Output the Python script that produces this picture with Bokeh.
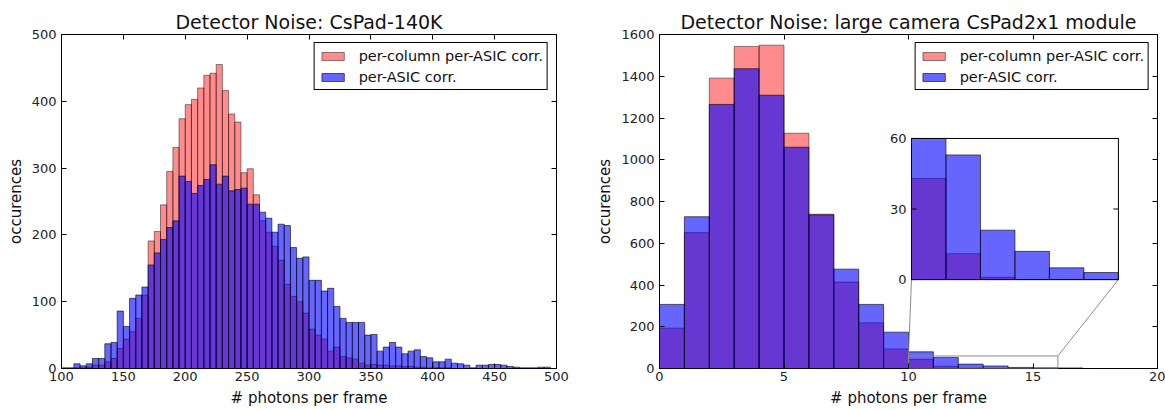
import numpy as np
from bokeh.plotting import figure
from bokeh.models import (Range1d, FixedTicker, LinearAxis, Legend, LegendItem,
                          CustomJSTickFormatter)
from bokeh.layouts import row
from bokeh.embed import file_html
from bokeh.resources import INLINE
from bokeh.core.properties import value

# ---------------- data ----------------
# Left panel: CsPad-140K, bins of 5 photons from 100 to 500
left_bin_start = 100
left_bin_width = 5
left_col_asic = [0, 0, 1, 1, 2, 5, 5, 10, 15, 30,
                 44, 55, 75, 110, 191, 205, 245, 295, 331, 374,
                 395, 403, 420, 439, 442, 455, 416, 381, 369, 293,
                 299, 260, 221, 204, 183, 162, 126, 108, 100, 83,
                 59, 50, 44, 26, 32, 18, 16, 14, 8, 5,
                 6, 5, 5, 4, 4, 3, 3, 2, 2, 1,
                 1, 1, 1, 0, 0, 0, 0, 0, 0, 0,
                 0, 0, 0, 0, 0, 0, 0, 0, 0, 0]
left_asic = [1, 1, 7, 4, 7, 15, 15, 37, 39, 86,
             63, 105, 110, 122, 155, 173, 193, 211, 221, 288,
             280, 262, 274, 283, 305, 276, 288, 266, 268, 270,
             246, 246, 234, 225, 204, 216, 214, 181, 165, 167,
             132, 132, 116, 120, 93, 75, 69, 69, 69, 50,
             51, 26, 32, 39, 32, 22, 26, 28, 18, 16,
             10, 10, 14, 8, 7, 5, 1, 5, 5, 6,
             6, 5, 3, 2, 1, 1, 1, 2, 2, 0]

# Right panel: large camera CsPad2x1 module, bins of 1 photon from 0
right_bin_start = 0
right_bin_width = 1
right_col_asic = [193, 651, 1391, 1543, 1549, 1127, 739, 414, 219, 94,
                  43, 11, 1, 0, 0, 0, 3]
right_asic = [307, 727, 1265, 1436, 1309, 1060, 736, 476, 307, 174,
              80, 53, 21, 12, 5, 3, 0]

left_xticks = [100, 150, 200, 250, 300, 350, 400, 450, 500]
left_yticks = [0, 100, 200, 300, 400, 500]
right_xticks = [0, 5, 10, 15, 20]
right_yticks = [0, 200, 400, 600, 800, 1000, 1200, 1400, 1600]
inset_yticks = [0, 30, 60]

labels = ["per-column per-ASIC corr.", "per-ASIC corr."]
titles = ["Detector Noise: CsPad-140K", "Detector Noise: large camera CsPad2x1 module"]
xlabel = "# photons per frame"
ylabel = "occurences"

# ---------------- style ----------------
FONT = "DejaVu Sans"
RED = dict(fill_color="red", fill_alpha=0.45, line_color="black", line_alpha=0.45, line_width=1)
BLUE = dict(fill_color="blue", fill_alpha=0.6, line_color="black", line_alpha=0.6, line_width=1)
TICK_FS = "13px"


def edges(start, width, n):
    e = start + width * np.arange(n + 1)
    return e[:-1], e[1:]


def make_fig(title, xr, yr, xticks, yticks, min_left, min_right, frame_w):
    p = figure(x_range=Range1d(*xr), y_range=Range1d(*yr),
               frame_width=frame_w, frame_height=334,
               min_border_left=min_left, min_border_right=min_right,
               min_border_top=34, min_border_bottom=40,
               output_backend="svg", toolbar_location=None,
               title=title)
    p.title.text_font = FONT
    p.title.text_font_size = "19px"
    p.title.text_font_style = "normal"
    p.title.align = "center"
    p.title.standoff = 3
    p.title.text_color = "#111111"
    p.xgrid.visible = False
    p.ygrid.visible = False
    p.outline_line_color = "black"
    p.outline_line_width = 1
    p.outline_line_alpha = 1
    p.background_fill_color = "white"
    p.border_fill_color = "white"
    for ax in (p.xaxis[0], p.yaxis[0]):
        ax.axis_line_color = None
        ax.major_tick_in = 5
        ax.major_tick_out = 0
        ax.minor_tick_line_color = None
        ax.major_label_text_font = FONT
        ax.major_label_text_font_size = TICK_FS
        ax.major_label_text_color = "#222222"
        ax.axis_label_text_font = FONT
        ax.axis_label_text_font_size = "15px"
        ax.axis_label_text_font_style = "normal"
        ax.axis_label_text_color = "#111111"
    p.xaxis[0].ticker = FixedTicker(ticks=xticks)
    p.yaxis[0].ticker = FixedTicker(ticks=yticks)
    p.xaxis[0].axis_label = xlabel
    p.yaxis[0].axis_label = ylabel
    p.xaxis[0].major_label_standoff = 3
    p.yaxis[0].major_label_standoff = 5
    p.xaxis[0].axis_label_standoff = 5
    p.yaxis[0].axis_label_standoff = 4
    blank = CustomJSTickFormatter(code="return ''")
    top = LinearAxis(ticker=FixedTicker(ticks=xticks), formatter=blank)
    right = LinearAxis(ticker=FixedTicker(ticks=yticks), formatter=blank)
    for ax in (top, right):
        ax.axis_line_color = None
        ax.major_tick_in = 5
        ax.major_tick_out = 0
        ax.minor_tick_line_color = None
        ax.major_label_standoff = 0
    p.add_layout(top, "above")
    p.add_layout(right, "right")
    return p


def add_legend(p, r_red, r_blue):
    leg = Legend(items=[LegendItem(label=labels[0], renderers=[r_red]),
                        LegendItem(label=labels[1], renderers=[r_blue])],
                 location="top_right")
    leg.border_line_color = "black"
    leg.border_line_width = 1
    leg.border_line_alpha = 1
    leg.label_text_font = FONT
    leg.label_text_font_size = "14.5px"
    leg.label_text_color = "#111111"
    leg.glyph_width = 28
    leg.glyph_height = 10
    leg.label_height = 17
    leg.spacing = 4
    leg.padding = 4
    leg.margin = 8
    leg.label_standoff = 12
    leg.background_fill_alpha = 1
    p.add_layout(leg)


# ---------------- left figure ----------------
pl = make_fig(titles[0], (100, 500), (0, 500),
              left_xticks, left_yticks, 61, 37, 495)
l0, l1 = edges(left_bin_start, left_bin_width, len(left_asic))
r1 = pl.quad(left=l0, right=l1, bottom=0, top=left_col_asic, **RED)
r2 = pl.quad(left=l0, right=l1, bottom=0, top=left_asic, **BLUE)
add_legend(pl, r1, r2)

# ---------------- right figure ----------------
pr = make_fig(titles[1], (0, 20), (0, 1600),
              right_xticks, right_yticks, 62, 8, 498)
q0, q1 = edges(right_bin_start, right_bin_width, len(right_asic))
s1 = pr.quad(left=q0, right=q1, bottom=0, top=right_col_asic, **RED)
s2 = pr.quad(left=q0, right=q1, bottom=0, top=right_asic, **BLUE)
add_legend(pr, s1, s2)

# inset: zoom of bins 10..16, counts 0..60, placed over a region of the main axes
INSET_X = (10, 16)
INSET_Y = (0, 60)
INSET_POS_X = (10.12, 18.43)   # main-data coords of the inset box
INSET_POS_Y = (426, 1102)


def lin(v, a0, a1, b0, b1):
    return b0 + (v - a0) * (b1 - b0) / (a1 - a0)


pr.extra_x_ranges = {"ix": Range1d(lin(0, *INSET_POS_X, *INSET_X), lin(20, *INSET_POS_X, *INSET_X))}
pr.extra_y_ranges = {"iy": Range1d(lin(0, *INSET_POS_Y, *INSET_Y), lin(1600, *INSET_POS_Y, *INSET_Y))}

# zoom marker rectangle and connectors (main coords)
GRAY = "#8c8c8c"
pr.quad(left=[INSET_X[0]], right=[INSET_X[1]], bottom=[INSET_Y[0]], top=[INSET_Y[1]],
        fill_color=None, line_color=GRAY, line_width=1)
pr.segment(x0=[INSET_X[0], INSET_X[1]], y0=[INSET_Y[1], INSET_Y[1]],
           x1=[INSET_POS_X[0], INSET_POS_X[1]], y1=[INSET_POS_Y[0], INSET_POS_Y[0]],
           line_color=GRAY, line_width=1)

i_sel = slice(INSET_X[0] - right_bin_start, INSET_X[1] - right_bin_start)
pr.quad(left=[INSET_X[0]], right=[INSET_X[1]], bottom=[INSET_Y[0]], top=[INSET_Y[1]],
        fill_color="white", line_color=None, x_range_name="ix", y_range_name="iy")
pr.quad(left=q0[i_sel], right=q1[i_sel], bottom=0,
        top=np.minimum(np.array(right_col_asic[i_sel]), INSET_Y[1]),
        x_range_name="ix", y_range_name="iy", **RED)
pr.quad(left=q0[i_sel], right=q1[i_sel], bottom=0,
        top=np.minimum(np.array(right_asic[i_sel]), INSET_Y[1]),
        x_range_name="ix", y_range_name="iy", **BLUE)
pr.quad(left=[INSET_X[0]], right=[INSET_X[1]], bottom=[INSET_Y[0]], top=[INSET_Y[1]],
        fill_color=None, line_color="black", line_width=1, x_range_name="ix", y_range_name="iy")

# inset y ticks (inward) and labels
tick_len = 5 * (INSET_X[1] - INSET_X[0]) / 207.0
ty = np.array(inset_yticks, dtype=float)
pr.segment(x0=np.full(len(ty), INSET_X[0]), y0=ty, x1=np.full(len(ty), INSET_X[0] + tick_len), y1=ty,
           line_color="black", x_range_name="ix", y_range_name="iy")
pr.segment(x0=np.full(len(ty), INSET_X[1]), y0=ty, x1=np.full(len(ty), INSET_X[1] - tick_len), y1=ty,
           line_color="black", x_range_name="ix", y_range_name="iy")
pr.text(x=np.full(len(ty), INSET_X[0]), y=ty, text=[str(t) for t in inset_yticks],
        x_offset=-5, text_align="right", text_baseline="middle",
        text_font_size=TICK_FS, text_color="#222222", text_font=value(FONT),
        x_range_name="ix", y_range_name="iy")

layout = row(pl, pr)
open("out.html", "w").write(file_html(layout, INLINE))
